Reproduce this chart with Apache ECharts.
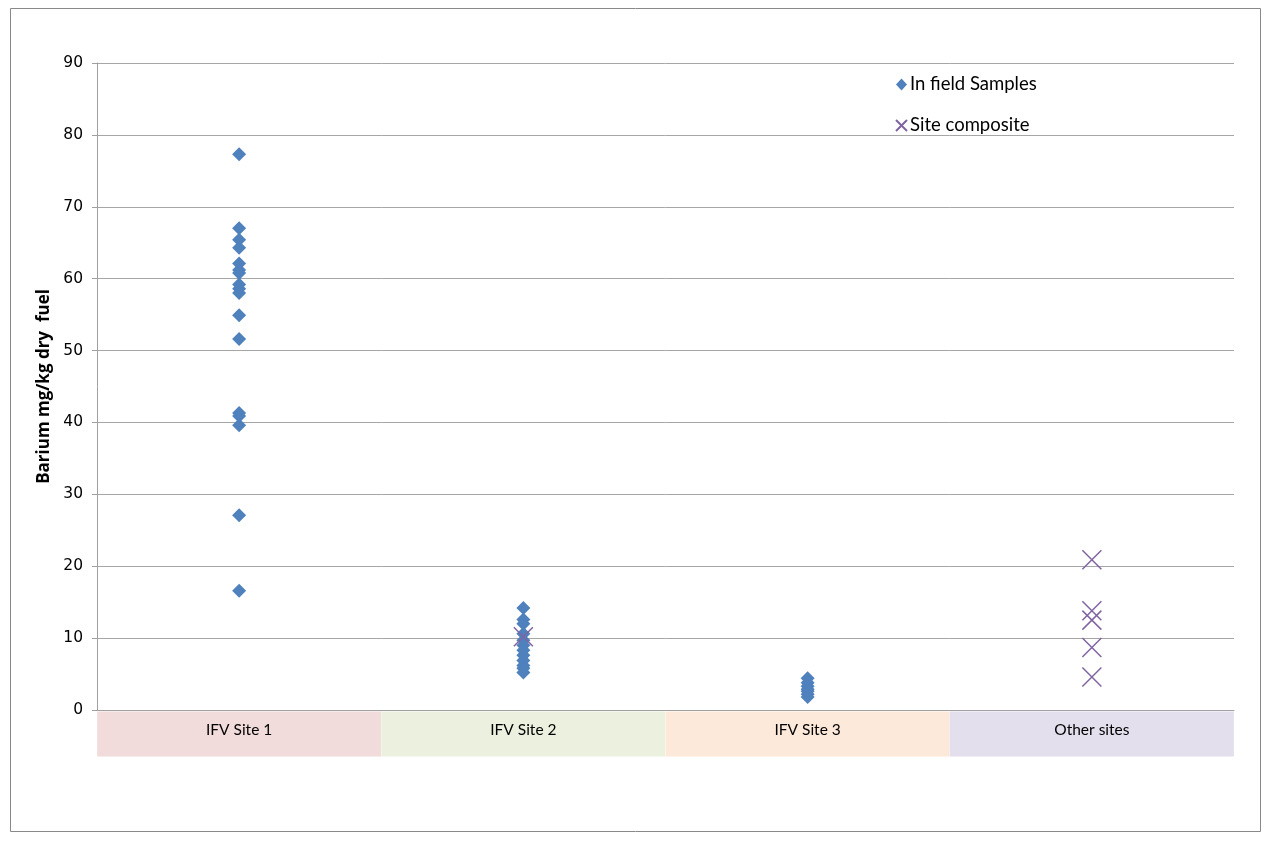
<!DOCTYPE html>
<html>
<head>
<meta charset="utf-8">
<script src="https://cdn.jsdelivr.net/npm/echarts@6/dist/echarts.min.js"></script>
<style>
html,body{margin:0;padding:0;background:#fff;}
#chart{width:1271px;height:843px;}
</style>
</head>
<body>
<div id="chart"></div>
<script>
// ---- data ----
const categories = ['IFV Site 1', 'IFV Site 2', 'IFV Site 3', 'Other sites'];
const site1Samples = [77.3, 67.0, 65.4, 64.3, 62.1, 61.2, 60.8, 59.2, 58.6, 58.0, 54.9, 51.6, 41.3, 40.9, 39.6, 27.1, 16.6];
const site2Samples = [14.2, 12.6, 12.0, 10.6, 9.7, 9.0, 8.3, 7.6, 6.9, 6.2, 5.8, 5.2];
const site3Samples = [4.4, 3.8, 3.3, 2.9, 2.6, 2.2, 1.8];
const site2Composite = [10.2];
const otherComposite = [20.9, 13.8, 12.5, 8.7, 4.6];
const yTicks = [0, 10, 20, 30, 40, 50, 60, 70, 80, 90];
const seriesNames = ['In field Samples', 'Site composite'];
const yAxisTitle = 'Barium mg/kg dry  fuel';

// ---- build ----
const inField = []
  .concat(site1Samples.map(v => [categories[0], v]))
  .concat(site2Samples.map(v => [categories[1], v]))
  .concat(site3Samples.map(v => [categories[2], v]));
const composite = []
  .concat(site2Composite.map(v => [categories[1], v]))
  .concat(otherComposite.map(v => [categories[3], v]));

const boxColors = ['#F2DCDB', '#EBF1DE', '#FDE9D9', '#E4DFEC'];
const rich = {};
boxColors.forEach((c, i) => {
  rich['c' + i] = {
    backgroundColor: c, width: 284, height: 36, lineHeight: 36, align: 'center',
    fontFamily: 'Lato', fontSize: 15.5, color: '#000', padding: [0, 0, 9, 0]
  };
});

const chart = echarts.init(document.getElementById('chart'), null, {renderer: 'canvas'});
chart.setOption({
  animation: false,
  backgroundColor: '#fff',
  graphic: [{
    type: 'rect', shape: {x: 10.5, y: 8.5, width: 1250, height: 823},
    style: {fill: 'none', stroke: '#898989', lineWidth: 1}, silent: true, z: -1
  }],
  grid: {left: 97, right: 37, top: 63, bottom: 133},
  legend: {
    orient: 'vertical', left: 890, top: 70, itemGap: 22,
    itemWidth: 11, itemHeight: 12,
    textStyle: {fontFamily: 'Lato', fontSize: 18.5, color: '#000', padding: [0, 0, 0, -2]},
    data: seriesNames
  },
  xAxis: {
    type: 'category', data: categories, boundaryGap: true,
    axisLine: {lineStyle: {color: '#A0A0A0', width: 1}},
    axisTick: {show: false},
    axisLabel: {
      margin: 6, interval: 0,
      formatter: (v) => '{c' + categories.indexOf(v) + '|' + v + '}',
      rich: rich
    },
    splitLine: {show: false}
  },
  yAxis: {
    type: 'value', min: yTicks[0], max: yTicks[yTicks.length - 1], interval: 10,
    name: yAxisTitle, nameLocation: 'middle', nameGap: 43, nameRotate: 90,
    nameTextStyle: {fontFamily: 'Open Sans', fontWeight: 'bold', fontSize: 17, color: '#000'},
    axisLine: {show: true, lineStyle: {color: '#A0A0A0'}},
    axisTick: {show: true, length: 5, lineStyle: {color: '#A0A0A0'}},
    axisLabel: {fontFamily: 'DejaVu Sans', fontSize: 15.5, color: '#000', margin: 14},
    splitLine: {lineStyle: {color: '#A6A6A6', width: 1}}
  },
  series: [{
    name: seriesNames[0], type: 'scatter', data: inField,
    symbol: 'diamond', symbolSize: 14,
    itemStyle: {color: '#4F81BD', opacity: 1}
  }, {
    name: seriesNames[1], type: 'scatter', data: composite,
    symbol: 'path://M0,0L20,20M20,0L0,20', symbolSize: 19,
    itemStyle: {color: 'rgba(0,0,0,0)', borderColor: '#8064A2', borderWidth: 1.5, opacity: 1}
  }]
});
</script>
</body>
</html>
